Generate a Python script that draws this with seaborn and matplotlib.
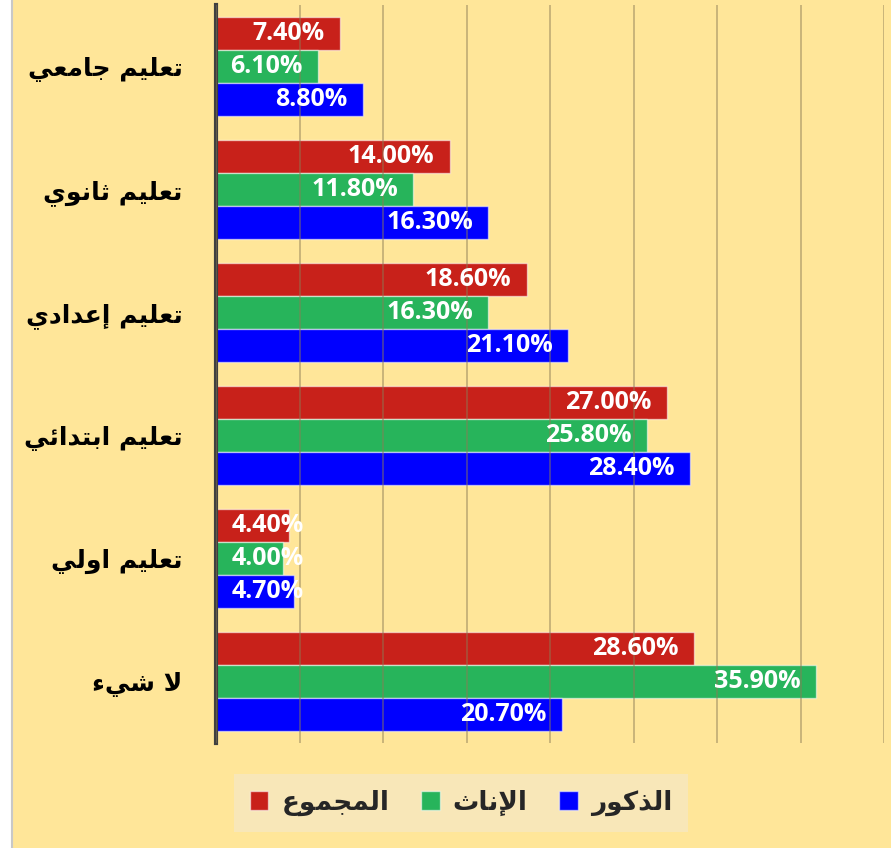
import numpy as np
import pandas as pd
import matplotlib
matplotlib.use('Agg')
import matplotlib.pyplot as plt
import seaborn as sns
from matplotlib.patches import Rectangle
from matplotlib.lines import Line2D

# data, top category first
categories = ["تعليم جامعي", "تعليم ثانوي", "تعليم إعدادي", "تعليم ابتدائي", "تعليم اولي", "لا شيء"]
total = [7.40, 14.00, 18.60, 27.00, 4.40, 28.60]
female = [6.10, 11.80, 16.30, 25.80, 4.00, 35.90]
male = [8.80, 16.30, 21.10, 28.40, 4.70, 20.70]
series_names = ["المجموع", "الإناث", "الذكور"]
series_colors = ["#C8211A", "#27B45B", "#0000FF"]

BG = "#FFE699"

# matplotlib has no arabic shaping, so map letters to presentation forms
# (start codepoint, number of forms: isolated, final, initial, medial)
FORMS = {
    "ء": (0xFE80, 1), "آ": (0xFE81, 2), "أ": (0xFE83, 2), "إ": (0xFE87, 2),
    "ئ": (0xFE89, 4), "ا": (0xFE8D, 2), "ب": (0xFE8F, 4), "ت": (0xFE95, 4),
    "ث": (0xFE99, 4), "ج": (0xFE9D, 4), "د": (0xFEA9, 2), "ذ": (0xFEAB, 2),
    "ر": (0xFEAD, 2), "ش": (0xFEB5, 4), "ع": (0xFEC9, 4), "ك": (0xFED9, 4),
    "ل": (0xFEDD, 4), "م": (0xFEE1, 4), "ن": (0xFEE5, 4), "و": (0xFEED, 2),
    "ي": (0xFEF1, 4),
}
LAM_ALEF = {"آ": 0xFEF5, "أ": 0xFEF7, "إ": 0xFEF9, "ا": 0xFEFB}


def shape(s):
    out = []
    i, n = 0, len(s)
    while i < n:
        c = s[i]
        if c not in FORMS:
            out.append(c)
            i += 1
            continue
        prev = s[i - 1] if i > 0 else None
        link_prev = prev in FORMS and FORMS[prev][1] == 4 and FORMS[c][1] >= 2
        if c == "ل" and i + 1 < n and s[i + 1] in LAM_ALEF:
            out.append(chr(LAM_ALEF[s[i + 1]] + (1 if link_prev else 0)))
            i += 2
            continue
        nxt = s[i + 1] if i + 1 < n else None
        link_next = FORMS[c][1] == 4 and nxt in FORMS and FORMS[nxt][1] >= 2
        start = FORMS[c][0]
        if link_prev and link_next:
            code = start + 3
        elif link_prev:
            code = start + 1
        elif link_next:
            code = start + 2
        else:
            code = start
        out.append(chr(code))
        i += 1
    return "".join(reversed(out))


df = pd.DataFrame({
    "category": categories * 3,
    "value": total + female + male,
    "series": sum([[s] * len(categories) for s in series_names], []),
})

sns.set_style("white")
plt.rcParams["font.family"] = ["DejaVu Sans"]

fig = plt.figure(figsize=(8.91, 8.48), dpi=100)
fig.patch.set_facecolor("white")
fig.add_artist(Rectangle((11.5 / 891, 0), 1, 1, transform=fig.transFigure,
                         facecolor=BG, edgecolor="none", zorder=0))
fig.add_artist(Line2D([11.5 / 891, 11.5 / 891], [0, 1], transform=fig.transFigure,
                      color="#c8c8c8", linewidth=1.5, zorder=0.5))

ax = fig.add_axes([216 / 891, 1 - 743 / 848, 668 / 891, 738 / 848])
ax.set_facecolor(BG)

sns.barplot(data=df, y="category", x="value", hue="series", hue_order=series_names,
            palette=series_colors, orient="h", width=0.81, ax=ax,
            edgecolor=(1, 1, 1, 0.55), linewidth=1, saturation=1, err_kws={"linewidth": 0})

ax.set_xlim(0, 40)
ax.set_ylim(5.5, -0.5)
ax.set_xticks(np.arange(0, 41, 5))
ax.set_xticklabels([])
ax.set_xlabel("")
ax.set_ylabel("")
ax.grid(axis="x", color="#8c7b55", alpha=0.5, linewidth=1.3)
ax.set_axisbelow(False)
for side in ["top", "right", "bottom"]:
    ax.spines[side].set_visible(False)
ax.spines["left"].set_color("#404040")
ax.spines["left"].set_linewidth(3)
ax.tick_params(axis="both", length=0)
ax.tick_params(axis="y", pad=24)
ax.set_yticks(range(len(categories)))
ax.set_yticklabels([shape(c) for c in categories], fontsize=18, fontweight="bold",
                   color="black")

# value labels inside the bar end
for container, vals in zip(ax.containers, [total, female, male]):
    for bar, v in zip(container, vals):
        y = bar.get_y() + bar.get_height() / 2
        if v < 5:
            ax.annotate(f"{v:.2f}%", (0, y), xytext=(11, 0), textcoords="offset points",
                        ha="left", va="center", color="white", fontsize=18,
                        fontweight="bold", family=["Open Sans", "DejaVu Sans"], zorder=5)
        else:
            ax.annotate(f"{v:.2f}%", (v, y), xytext=(-11, 0), textcoords="offset points",
                        ha="right", va="center", color="white", fontsize=18,
                        fontweight="bold", family=["Open Sans", "DejaVu Sans"], zorder=5)

handles, _ = ax.get_legend_handles_labels()
ax.get_legend().remove()
leg = fig.legend(handles, [shape(s) for s in series_names], loc="center",
                 bbox_to_anchor=(461 / 891, 1 - 803 / 848), ncol=3, frameon=True,
                 fancybox=False, framealpha=1, facecolor="#F8E7B8", edgecolor="none",
                 prop={"size": 19, "weight": "bold"}, handlelength=0.7, handleheight=0.7,
                 columnspacing=1.2, handletextpad=0.5, borderpad=0.6)

fig.savefig("out.png", dpi=100, facecolor=fig.get_facecolor())
